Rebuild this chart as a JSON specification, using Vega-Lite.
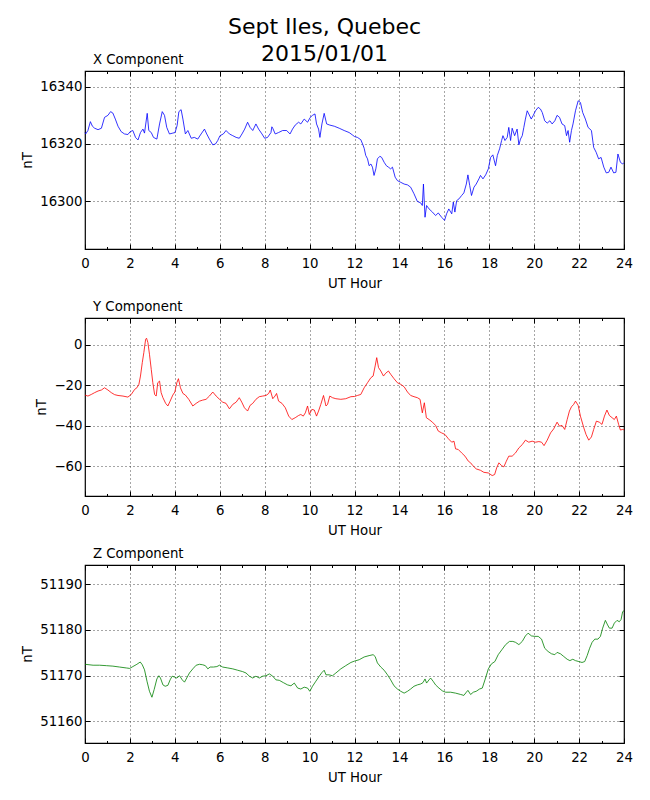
{
  "$schema": "https://vega.github.io/schema/vega-lite/v6.json",
  "background": "white",
  "padding": {"left": 20, "top": 15, "right": 5, "bottom": 5},
  "title": {"text": ["Sept Iles, Quebec", "2015/01/01"], "fontSize": 22, "fontWeight": "normal", "font": "DejaVu Sans", "color": "black", "anchor": "middle", "frame": "group", "offset": -13, "dx": -30, "lineHeight": 27},
  "config": {
    "font": "DejaVu Sans",
    "view": {"stroke": "black", "strokeWidth": 1.2},
    "axis": {"domain": false, "labelFontSize": 13.3, "labelColor": "black", "labelFont": "DejaVu Sans", "titleFont": "DejaVu Sans", "titleFontSize": 13.3, "titleFontWeight": "normal", "titleColor": "black", "tickColor": "black", "tickWidth": 1, "gridColor": "black", "gridDash": [1, 3], "gridWidth": 0.7, "gridOpacity": 1, "labelFlush": false},
    "axisX": {"labelPadding": 12, "titlePadding": 7},
    "axisY": {"labelPadding": 8, "titlePadding": 5},
    "title": {"font": "DejaVu Sans", "fontWeight": "normal", "color": "black"}
  },
  "bounds": "flush",
  "spacing": 69,
  "datasets": {
    "xdata": [
      {"h":0,"v":16324},{"h":0.03,"v":16323.5},{"h":0.13,"v":16324.7},{"h":0.24,"v":16327.8},{"h":0.33,"v":16326.2},{"h":0.43,"v":16325.5},{"h":0.58,"v":16325},{"h":0.73,"v":16325.5},{"h":0.87,"v":16329.3},{"h":1.02,"v":16330},{"h":1.14,"v":16331.3},{"h":1.24,"v":16330.8},{"h":1.35,"v":16328.7},{"h":1.47,"v":16326.2},{"h":1.61,"v":16324.3},{"h":1.76,"v":16323.5},{"h":1.91,"v":16323.3},{"h":2.01,"v":16324.3},{"h":2.13,"v":16324.7},{"h":2.25,"v":16322.3},{"h":2.36,"v":16321.4},{"h":2.47,"v":16324},{"h":2.58,"v":16325.2},{"h":2.65,"v":16323.8},{"h":2.77,"v":16330.7},{"h":2.84,"v":16324.7},{"h":2.95,"v":16324},{"h":3.05,"v":16322.3},{"h":3.2,"v":16321.7},{"h":3.32,"v":16327},{"h":3.44,"v":16331.3},{"h":3.54,"v":16330},{"h":3.64,"v":16325.8},{"h":3.76,"v":16323.5},{"h":3.91,"v":16323.8},{"h":4.01,"v":16324},{"h":4.1,"v":16326.4},{"h":4.18,"v":16331.3},{"h":4.28,"v":16332},{"h":4.36,"v":16328.7},{"h":4.47,"v":16323.5},{"h":4.58,"v":16324.7},{"h":4.73,"v":16322},{"h":4.87,"v":16322.3},{"h":5.02,"v":16321.7},{"h":5.17,"v":16323.5},{"h":5.32,"v":16325.2},{"h":5.42,"v":16323.5},{"h":5.54,"v":16321.7},{"h":5.69,"v":16319.7},{"h":5.81,"v":16320},{"h":5.91,"v":16321.2},{"h":6.01,"v":16322.9},{"h":6.16,"v":16323.5},{"h":6.28,"v":16324.7},{"h":6.43,"v":16323.5},{"h":6.58,"v":16322.9},{"h":6.73,"v":16322.3},{"h":6.87,"v":16322},{"h":6.99,"v":16323.5},{"h":7.11,"v":16325.2},{"h":7.24,"v":16327.6},{"h":7.35,"v":16325.8},{"h":7.47,"v":16324.7},{"h":7.61,"v":16327},{"h":7.73,"v":16325.2},{"h":7.88,"v":16323.5},{"h":8.0,"v":16322},{"h":8.13,"v":16322.3},{"h":8.28,"v":16324},{"h":8.32,"v":16326},{"h":8.36,"v":16325.5},{"h":8.47,"v":16323.5},{"h":8.62,"v":16324},{"h":8.8,"v":16324.7},{"h":8.98,"v":16324.7},{"h":9.13,"v":16323.5},{"h":9.24,"v":16325.2},{"h":9.36,"v":16326.6},{"h":9.51,"v":16327.6},{"h":9.61,"v":16327},{"h":9.76,"v":16328.7},{"h":9.91,"v":16327.6},{"h":10.03,"v":16329.3},{"h":10.13,"v":16330},{"h":10.24,"v":16330.5},{"h":10.31,"v":16327},{"h":10.4,"v":16325.2},{"h":10.46,"v":16322.3},{"h":10.55,"v":16327},{"h":10.65,"v":16330.7},{"h":10.76,"v":16327},{"h":10.9,"v":16326.6},{"h":11.1,"v":16326.2},{"h":11.32,"v":16325.5},{"h":11.54,"v":16324.7},{"h":11.76,"v":16324},{"h":11.9,"v":16323.2},{"h":12.0,"v":16322.6},{"h":12.13,"v":16322.3},{"h":12.28,"v":16321.5},{"h":12.36,"v":16320},{"h":12.43,"v":16318.5},{"h":12.5,"v":16316},{"h":12.58,"v":16314.8},{"h":12.65,"v":16312.4},{"h":12.73,"v":16313},{"h":12.8,"v":16311.9},{"h":12.87,"v":16309},{"h":12.95,"v":16311.3},{"h":13.02,"v":16314.8},{"h":13.13,"v":16315.7},{"h":13.21,"v":16315.3},{"h":13.32,"v":16313.6},{"h":13.42,"v":16312.4},{"h":13.51,"v":16311.9},{"h":13.61,"v":16311.3},{"h":13.69,"v":16311.9},{"h":13.81,"v":16308.4},{"h":13.91,"v":16307.2},{"h":14.06,"v":16306.6},{"h":14.21,"v":16306},{"h":14.36,"v":16305.7},{"h":14.5,"v":16304.9},{"h":14.65,"v":16302.6},{"h":14.8,"v":16299.9},{"h":14.95,"v":16299.4},{"h":15.02,"v":16298.5},{"h":15.07,"v":16306},{"h":15.14,"v":16294.4},{"h":15.21,"v":16298.5},{"h":15.32,"v":16297.3},{"h":15.47,"v":16296.2},{"h":15.61,"v":16295},{"h":15.73,"v":16295.9},{"h":15.88,"v":16294.4},{"h":16.01,"v":16293.3},{"h":16.1,"v":16295.6},{"h":16.2,"v":16297.3},{"h":16.33,"v":16295.6},{"h":16.4,"v":16299.7},{"h":16.47,"v":16296.2},{"h":16.55,"v":16300.2},{"h":16.65,"v":16300.8},{"h":16.77,"v":16302},{"h":16.87,"v":16302.9},{"h":16.98,"v":16306},{"h":17.05,"v":16309.2},{"h":17.13,"v":16305.5},{"h":17.21,"v":16302},{"h":17.32,"v":16304.9},{"h":17.42,"v":16306},{"h":17.54,"v":16307.8},{"h":17.61,"v":16309},{"h":17.72,"v":16307.8},{"h":17.84,"v":16309.2},{"h":17.96,"v":16311.3},{"h":18.06,"v":16315.3},{"h":18.16,"v":16316.2},{"h":18.28,"v":16312.4},{"h":18.36,"v":16316},{"h":18.46,"v":16318.3},{"h":18.55,"v":16321.2},{"h":18.61,"v":16322.9},{"h":18.7,"v":16321.2},{"h":18.8,"v":16322.3},{"h":18.87,"v":16325.8},{"h":18.95,"v":16321.2},{"h":19.02,"v":16325.5},{"h":19.13,"v":16322.9},{"h":19.24,"v":16325.2},{"h":19.32,"v":16319.7},{"h":19.39,"v":16321.7},{"h":19.47,"v":16322.9},{"h":19.54,"v":16325.8},{"h":19.61,"v":16328.7},{"h":19.69,"v":16331.6},{"h":19.76,"v":16330.5},{"h":19.87,"v":16328.7},{"h":19.96,"v":16330},{"h":20.06,"v":16331.6},{"h":20.18,"v":16332.8},{"h":20.28,"v":16332.2},{"h":20.36,"v":16331},{"h":20.47,"v":16328.1},{"h":20.58,"v":16327.3},{"h":20.7,"v":16328.1},{"h":20.8,"v":16327},{"h":20.92,"v":16328.1},{"h":21.02,"v":16330},{"h":21.13,"v":16329.3},{"h":21.24,"v":16327},{"h":21.36,"v":16326.4},{"h":21.44,"v":16322.9},{"h":21.51,"v":16324.7},{"h":21.58,"v":16320.6},{"h":21.66,"v":16324.7},{"h":21.73,"v":16327},{"h":21.84,"v":16331.6},{"h":21.96,"v":16335.1},{"h":22.06,"v":16334.5},{"h":22.16,"v":16331},{"h":22.28,"v":16328.7},{"h":22.4,"v":16325.8},{"h":22.55,"v":16324.7},{"h":22.65,"v":16318.8},{"h":22.76,"v":16317.1},{"h":22.87,"v":16314.8},{"h":22.98,"v":16315.3},{"h":23.1,"v":16311.9},{"h":23.21,"v":16309.9},{"h":23.32,"v":16310.1},{"h":23.42,"v":16311.9},{"h":23.54,"v":16309.9},{"h":23.64,"v":16310.1},{"h":23.73,"v":16316.5},{"h":23.84,"v":16313.6},{"h":23.94,"v":16313},{"h":24,"v":16313.5}
    ],
    "ydata": [
      {"h":0,"v":-24.8},{"h":0.13,"v":-25.3},{"h":0.28,"v":-24.5},{"h":0.43,"v":-23.6},{"h":0.58,"v":-22.8},{"h":0.73,"v":-22.3},{"h":0.87,"v":-21.2},{"h":1.02,"v":-22.3},{"h":1.17,"v":-23.6},{"h":1.32,"v":-24.6},{"h":1.47,"v":-25},{"h":1.69,"v":-25.3},{"h":1.91,"v":-25.8},{"h":2.06,"v":-24.5},{"h":2.21,"v":-22},{"h":2.31,"v":-21.2},{"h":2.4,"v":-19.5},{"h":2.47,"v":-15.4},{"h":2.55,"v":-8.8},{"h":2.62,"v":-3.8},{"h":2.7,"v":2.8},{"h":2.74,"v":3.3},{"h":2.8,"v":1.2},{"h":2.87,"v":-4.6},{"h":2.95,"v":-12.1},{"h":3.02,"v":-18.7},{"h":3.1,"v":-24.5},{"h":3.17,"v":-25.3},{"h":3.24,"v":-18.7},{"h":3.32,"v":-17.9},{"h":3.39,"v":-23.6},{"h":3.47,"v":-26.1},{"h":3.59,"v":-28.9},{"h":3.69,"v":-30.2},{"h":3.79,"v":-27.8},{"h":3.91,"v":-24.8},{"h":4.0,"v":-23.3},{"h":4.09,"v":-18.7},{"h":4.16,"v":-16.7},{"h":4.25,"v":-21.2},{"h":4.36,"v":-24},{"h":4.47,"v":-24.8},{"h":4.62,"v":-26.9},{"h":4.8,"v":-30.2},{"h":4.95,"v":-28.9},{"h":5.1,"v":-27.8},{"h":5.24,"v":-27.3},{"h":5.39,"v":-26.9},{"h":5.54,"v":-25.3},{"h":5.69,"v":-23.3},{"h":5.84,"v":-25.3},{"h":5.99,"v":-26.9},{"h":6.13,"v":-28.3},{"h":6.28,"v":-28.9},{"h":6.43,"v":-31.6},{"h":6.58,"v":-29.4},{"h":6.73,"v":-28.3},{"h":6.87,"v":-26.1},{"h":6.98,"v":-28.3},{"h":7.1,"v":-31.1},{"h":7.24,"v":-32.7},{"h":7.35,"v":-29.9},{"h":7.47,"v":-28.9},{"h":7.61,"v":-26.9},{"h":7.76,"v":-25.6},{"h":7.91,"v":-25.3},{"h":8.06,"v":-25},{"h":8.18,"v":-24},{"h":8.25,"v":-22.3},{"h":8.36,"v":-26.6},{"h":8.46,"v":-25.3},{"h":8.53,"v":-24},{"h":8.62,"v":-27.8},{"h":8.77,"v":-28.9},{"h":8.92,"v":-31.1},{"h":9.07,"v":-35.2},{"h":9.21,"v":-36.9},{"h":9.36,"v":-36},{"h":9.51,"v":-34.9},{"h":9.61,"v":-34.4},{"h":9.72,"v":-35.2},{"h":9.81,"v":-33.6},{"h":9.91,"v":-30.2},{"h":9.99,"v":-34.4},{"h":10.1,"v":-31.9},{"h":10.21,"v":-32.2},{"h":10.31,"v":-35.2},{"h":10.4,"v":-32.7},{"h":10.5,"v":-29.4},{"h":10.62,"v":-25},{"h":10.73,"v":-30.2},{"h":10.8,"v":-29.4},{"h":10.9,"v":-25.3},{"h":11.02,"v":-26.1},{"h":11.17,"v":-26.6},{"h":11.39,"v":-26.9},{"h":11.61,"v":-26.6},{"h":11.84,"v":-25.6},{"h":12.0,"v":-25.5},{"h":12.13,"v":-25},{"h":12.28,"v":-24.5},{"h":12.43,"v":-21.2},{"h":12.58,"v":-18.7},{"h":12.73,"v":-16.2},{"h":12.83,"v":-15.4},{"h":12.92,"v":-10.4},{"h":12.99,"v":-6.3},{"h":13.07,"v":-11.2},{"h":13.17,"v":-12.9},{"h":13.29,"v":-15.4},{"h":13.39,"v":-14},{"h":13.51,"v":-12.9},{"h":13.61,"v":-14.5},{"h":13.76,"v":-16.7},{"h":13.91,"v":-18.7},{"h":14.06,"v":-19.5},{"h":14.21,"v":-20.7},{"h":14.36,"v":-23.3},{"h":14.5,"v":-25},{"h":14.65,"v":-25.6},{"h":14.8,"v":-26.1},{"h":14.92,"v":-26.9},{"h":15.02,"v":-33.6},{"h":15.11,"v":-28.6},{"h":15.2,"v":-36},{"h":15.32,"v":-36.9},{"h":15.47,"v":-38.2},{"h":15.61,"v":-39.8},{"h":15.73,"v":-42.6},{"h":15.88,"v":-43.5},{"h":16.03,"v":-44.3},{"h":16.18,"v":-46.4},{"h":16.33,"v":-48.1},{"h":16.43,"v":-47.6},{"h":16.5,"v":-51.4},{"h":16.62,"v":-51.7},{"h":16.77,"v":-53.4},{"h":16.92,"v":-55},{"h":17.07,"v":-57.5},{"h":17.17,"v":-58.3},{"h":17.27,"v":-59.7},{"h":17.42,"v":-61.3},{"h":17.61,"v":-62},{"h":17.76,"v":-63},{"h":17.96,"v":-63.3},{"h":18.13,"v":-64.6},{"h":18.24,"v":-64.1},{"h":18.33,"v":-60.8},{"h":18.43,"v":-58.3},{"h":18.55,"v":-59.7},{"h":18.65,"v":-60.3},{"h":18.76,"v":-57.5},{"h":18.87,"v":-55},{"h":19.02,"v":-55},{"h":19.17,"v":-53.4},{"h":19.32,"v":-50.9},{"h":19.47,"v":-49.3},{"h":19.61,"v":-47.1},{"h":19.76,"v":-48.1},{"h":19.91,"v":-47.6},{"h":20.06,"v":-48.1},{"h":20.21,"v":-47.8},{"h":20.33,"v":-48.1},{"h":20.44,"v":-49.8},{"h":20.58,"v":-47.1},{"h":20.73,"v":-43.5},{"h":20.87,"v":-41.5},{"h":21.02,"v":-38.2},{"h":21.13,"v":-40.2},{"h":21.24,"v":-39.8},{"h":21.36,"v":-41.8},{"h":21.47,"v":-36.9},{"h":21.57,"v":-32.7},{"h":21.66,"v":-30.6},{"h":21.76,"v":-29.4},{"h":21.84,"v":-27.8},{"h":21.96,"v":-29.9},{"h":22.06,"v":-35.2},{"h":22.21,"v":-41},{"h":22.31,"v":-44.3},{"h":22.43,"v":-47.1},{"h":22.55,"v":-45.5},{"h":22.65,"v":-41.8},{"h":22.77,"v":-37.7},{"h":22.9,"v":-38.2},{"h":23.02,"v":-39.3},{"h":23.13,"v":-35.2},{"h":23.24,"v":-32.2},{"h":23.35,"v":-34.9},{"h":23.47,"v":-36},{"h":23.57,"v":-36.9},{"h":23.66,"v":-35.2},{"h":23.76,"v":-39.3},{"h":23.84,"v":-42.1},{"h":23.94,"v":-41.8},{"h":24,"v":-42}
    ],
    "zdata": [
      {"h":0,"v":51172.5},{"h":0.36,"v":51172.3},{"h":0.65,"v":51172.3},{"h":0.95,"v":51172.2},{"h":1.24,"v":51172.1},{"h":1.54,"v":51171.9},{"h":1.84,"v":51171.7},{"h":1.99,"v":51171.6},{"h":2.13,"v":51172},{"h":2.31,"v":51172.5},{"h":2.46,"v":51173},{"h":2.55,"v":51172.4},{"h":2.65,"v":51171.3},{"h":2.76,"v":51168.8},{"h":2.87,"v":51166.6},{"h":2.98,"v":51165.3},{"h":3.08,"v":51167},{"h":3.2,"v":51169.3},{"h":3.29,"v":51170},{"h":3.36,"v":51169.5},{"h":3.47,"v":51168},{"h":3.57,"v":51167.7},{"h":3.69,"v":51167.9},{"h":3.79,"v":51169.1},{"h":3.88,"v":51169.9},{"h":3.99,"v":51169.7},{"h":4.09,"v":51169.5},{"h":4.21,"v":51170},{"h":4.33,"v":51169.1},{"h":4.43,"v":51168.6},{"h":4.53,"v":51169.5},{"h":4.65,"v":51170.6},{"h":4.8,"v":51171.5},{"h":4.95,"v":51172.3},{"h":5.1,"v":51172.5},{"h":5.24,"v":51172.4},{"h":5.36,"v":51172.2},{"h":5.47,"v":51171.5},{"h":5.57,"v":51171.9},{"h":5.72,"v":51171.9},{"h":5.87,"v":51172},{"h":5.99,"v":51172.3},{"h":6.13,"v":51171.9},{"h":6.36,"v":51171.7},{"h":6.58,"v":51171.5},{"h":6.8,"v":51171.2},{"h":7.02,"v":51170.9},{"h":7.17,"v":51170.6},{"h":7.32,"v":51169.9},{"h":7.47,"v":51169.5},{"h":7.61,"v":51169.9},{"h":7.76,"v":51169.5},{"h":7.91,"v":51169.9},{"h":8.06,"v":51170},{"h":8.21,"v":51170.4},{"h":8.36,"v":51169.9},{"h":8.5,"v":51169.1},{"h":8.65,"v":51169},{"h":8.83,"v":51168.5},{"h":9.02,"v":51168},{"h":9.17,"v":51167.8},{"h":9.32,"v":51168.4},{"h":9.47,"v":51167.3},{"h":9.61,"v":51167.1},{"h":9.76,"v":51167.5},{"h":9.91,"v":51167.3},{"h":10.01,"v":51166.6},{"h":10.13,"v":51167.7},{"h":10.28,"v":51168.8},{"h":10.43,"v":51169.9},{"h":10.55,"v":51170.7},{"h":10.65,"v":51171.2},{"h":10.73,"v":51170.2},{"h":10.87,"v":51170.2},{"h":11.02,"v":51170},{"h":11.17,"v":51170.6},{"h":11.39,"v":51171.5},{"h":11.61,"v":51172.2},{"h":11.84,"v":51172.9},{"h":12.0,"v":51173.2},{"h":12.21,"v":51173.5},{"h":12.43,"v":51174.1},{"h":12.65,"v":51174.4},{"h":12.83,"v":51174.6},{"h":12.92,"v":51174.2},{"h":13.02,"v":51172.8},{"h":13.17,"v":51171.9},{"h":13.32,"v":51171.2},{"h":13.47,"v":51170.2},{"h":13.61,"v":51169.1},{"h":13.76,"v":51167.8},{"h":13.91,"v":51167.1},{"h":14.06,"v":51166.6},{"h":14.21,"v":51166.2},{"h":14.36,"v":51166.6},{"h":14.5,"v":51167.1},{"h":14.65,"v":51167.7},{"h":14.8,"v":51168},{"h":14.95,"v":51168.2},{"h":15.05,"v":51168.5},{"h":15.14,"v":51169.3},{"h":15.21,"v":51168.4},{"h":15.32,"v":51169.1},{"h":15.39,"v":51169.5},{"h":15.5,"v":51168.8},{"h":15.61,"v":51168},{"h":15.76,"v":51167.3},{"h":15.91,"v":51166.7},{"h":16.06,"v":51166.4},{"h":16.28,"v":51166.4},{"h":16.5,"v":51166.2},{"h":16.73,"v":51165.9},{"h":16.87,"v":51165.7},{"h":16.98,"v":51166.4},{"h":17.05,"v":51166.8},{"h":17.17,"v":51165.9},{"h":17.29,"v":51166.4},{"h":17.42,"v":51166.6},{"h":17.57,"v":51167.1},{"h":17.69,"v":51167.3},{"h":17.81,"v":51169.1},{"h":17.96,"v":51171.5},{"h":18.1,"v":51172.6},{"h":18.25,"v":51173.1},{"h":18.4,"v":51174.6},{"h":18.58,"v":51175.8},{"h":18.73,"v":51176.8},{"h":18.9,"v":51177.5},{"h":19.05,"v":51177.5},{"h":19.17,"v":51177.3},{"h":19.32,"v":51176.8},{"h":19.47,"v":51177.5},{"h":19.61,"v":51178.7},{"h":19.73,"v":51179.3},{"h":19.88,"v":51178.7},{"h":20.03,"v":51178.6},{"h":20.18,"v":51178.6},{"h":20.33,"v":51178},{"h":20.47,"v":51176},{"h":20.62,"v":51175.3},{"h":20.77,"v":51174.8},{"h":20.92,"v":51174.6},{"h":21.02,"v":51175.1},{"h":21.17,"v":51174.8},{"h":21.32,"v":51174.2},{"h":21.47,"v":51173.6},{"h":21.59,"v":51173.3},{"h":21.72,"v":51173.6},{"h":21.84,"v":51173.3},{"h":21.99,"v":51173.1},{"h":22.13,"v":51172.9},{"h":22.25,"v":51173.1},{"h":22.36,"v":51174.4},{"h":22.47,"v":51176},{"h":22.58,"v":51177.3},{"h":22.7,"v":51178},{"h":22.84,"v":51178},{"h":22.95,"v":51178.6},{"h":23.05,"v":51180.4},{"h":23.17,"v":51182.1},{"h":23.27,"v":51181.1},{"h":23.35,"v":51180.4},{"h":23.47,"v":51180.4},{"h":23.57,"v":51181.5},{"h":23.69,"v":51182.1},{"h":23.79,"v":51181.8},{"h":23.87,"v":51182.3},{"h":23.94,"v":51184},{"h":24,"v":51184.2}
    ]
  },
  "vconcat": [
    {
      "width": 539, "height": 178,
      "title": {"text": "X Component", "anchor": "start", "frame": "group", "fontSize": 13.3, "offset": 4, "dx": 8},
      "layer": [
        {
          "data": {"name": "xdata"},
          "mark": {"type": "line", "color": "#0000ff", "strokeWidth": 0.8},
          "encoding": {
            "x": {"field": "h", "type": "quantitative", "scale": {"domain": [0, 24], "nice": false, "zero": false},
                  "axis": {"orient": "bottom", "title": "UT Hour", "values": [0,1,2,3,4,5,6,7,8,9,10,11,12,13,14,15,16,17,18,19,20,21,22,23,24], "labelExpr": "datum.value % 2 === 0 ? datum.label : ''", "grid": true, "gridOpacity": {"condition": {"test": "datum.value % 2 === 0 && datum.value > 0 && datum.value < 24", "value": 1}, "value": 0}, "tickSize": {"condition": {"test": "datum.value % 2 === 0", "value": -5}, "value": -2.5}}},
            "y": {"field": "v", "type": "quantitative", "scale": {"domain": [16283.3, 16345.5], "nice": false, "zero": false},
                  "axis": {"orient": "left", "title": "nT", "values": [16300, 16320, 16340], "format": "d", "grid": true, "tickSize": -5}}
          }
        },
        {
          "data": {"name": "xdata"},
          "mark": {"type": "line", "opacity": 0},
          "encoding": {
            "x": {"field": "h", "type": "quantitative", "axis": {"orient": "top", "title": null, "labels": false, "grid": false, "values": [0,1,2,3,4,5,6,7,8,9,10,11,12,13,14,15,16,17,18,19,20,21,22,23,24], "tickSize": {"condition": {"test": "datum.value % 2 === 0", "value": -5}, "value": -2.5}}},
            "y": {"field": "v", "type": "quantitative", "axis": {"orient": "right", "title": null, "labels": false, "grid": false, "values": [16300, 16320, 16340], "tickSize": -5}}
          }
        }
      ]
    },
    {
      "width": 539, "height": 178,
      "title": {"text": "Y Component", "anchor": "start", "frame": "group", "fontSize": 13.3, "offset": 4, "dx": 8},
      "layer": [
        {
          "data": {"name": "ydata"},
          "mark": {"type": "line", "color": "#ff0000", "strokeWidth": 0.8},
          "encoding": {
            "x": {"field": "h", "type": "quantitative", "scale": {"domain": [0, 24], "nice": false, "zero": false},
                  "axis": {"orient": "bottom", "title": "UT Hour", "values": [0,1,2,3,4,5,6,7,8,9,10,11,12,13,14,15,16,17,18,19,20,21,22,23,24], "labelExpr": "datum.value % 2 === 0 ? datum.label : ''", "grid": true, "gridOpacity": {"condition": {"test": "datum.value % 2 === 0 && datum.value > 0 && datum.value < 24", "value": 1}, "value": 0}, "tickSize": {"condition": {"test": "datum.value % 2 === 0", "value": -5}, "value": -2.5}}},
            "y": {"field": "v", "type": "quantitative", "scale": {"domain": [-74.7, 13.3], "nice": false, "zero": false},
                  "axis": {"orient": "left", "title": "nT", "values": [-60, -40, -20, 0], "format": "d", "grid": true, "tickSize": -5}}
          }
        },
        {
          "data": {"name": "ydata"},
          "mark": {"type": "line", "opacity": 0},
          "encoding": {
            "x": {"field": "h", "type": "quantitative", "axis": {"orient": "top", "title": null, "labels": false, "grid": false, "values": [0,1,2,3,4,5,6,7,8,9,10,11,12,13,14,15,16,17,18,19,20,21,22,23,24], "tickSize": {"condition": {"test": "datum.value % 2 === 0", "value": -5}, "value": -2.5}}},
            "y": {"field": "v", "type": "quantitative", "axis": {"orient": "right", "title": null, "labels": false, "grid": false, "values": [-60, -40, -20, 0], "tickSize": -5}}
          }
        }
      ]
    },
    {
      "width": 539, "height": 178,
      "title": {"text": "Z Component", "anchor": "start", "frame": "group", "fontSize": 13.3, "offset": 4, "dx": 8},
      "layer": [
        {
          "data": {"name": "zdata"},
          "mark": {"type": "line", "color": "#008000", "strokeWidth": 0.8},
          "encoding": {
            "x": {"field": "h", "type": "quantitative", "scale": {"domain": [0, 24], "nice": false, "zero": false},
                  "axis": {"orient": "bottom", "title": "UT Hour", "values": [0,1,2,3,4,5,6,7,8,9,10,11,12,13,14,15,16,17,18,19,20,21,22,23,24], "labelExpr": "datum.value % 2 === 0 ? datum.label : ''", "grid": true, "gridOpacity": {"condition": {"test": "datum.value % 2 === 0 && datum.value > 0 && datum.value < 24", "value": 1}, "value": 0}, "tickSize": {"condition": {"test": "datum.value % 2 === 0", "value": -5}, "value": -2.5}}},
            "y": {"field": "v", "type": "quantitative", "scale": {"domain": [51155.3, 51194.2], "nice": false, "zero": false},
                  "axis": {"orient": "left", "title": "nT", "values": [51160, 51170, 51180, 51190], "format": "d", "grid": true, "tickSize": -5}}
          }
        },
        {
          "data": {"name": "zdata"},
          "mark": {"type": "line", "opacity": 0},
          "encoding": {
            "x": {"field": "h", "type": "quantitative", "axis": {"orient": "top", "title": null, "labels": false, "grid": false, "values": [0,1,2,3,4,5,6,7,8,9,10,11,12,13,14,15,16,17,18,19,20,21,22,23,24], "tickSize": {"condition": {"test": "datum.value % 2 === 0", "value": -5}, "value": -2.5}}},
            "y": {"field": "v", "type": "quantitative", "axis": {"orient": "right", "title": null, "labels": false, "grid": false, "values": [51160, 51170, 51180, 51190], "tickSize": -5}}
          }
        }
      ]
    }
  ]
}
